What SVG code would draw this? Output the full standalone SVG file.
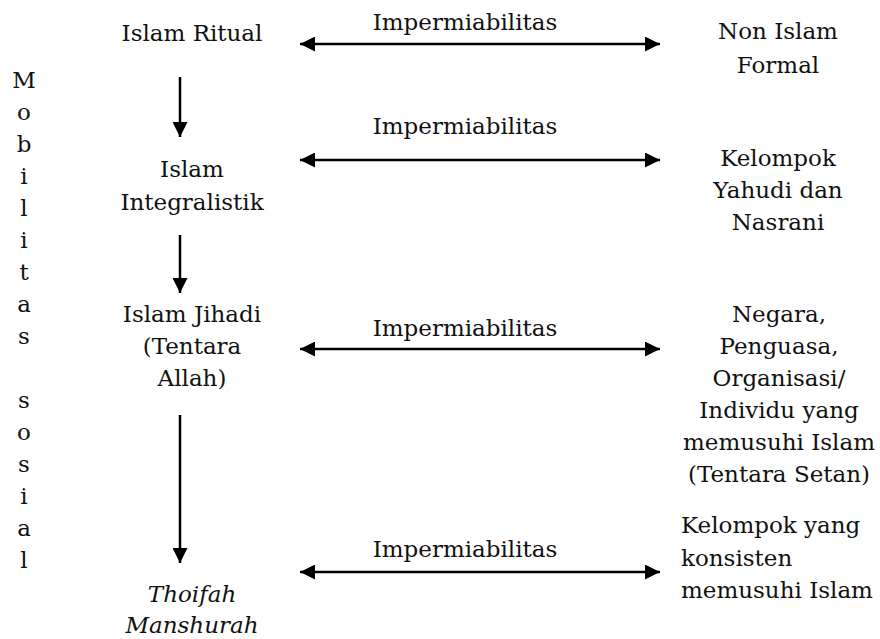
<svg xmlns="http://www.w3.org/2000/svg" width="880" height="639" viewBox="0 0 880 639">
<style>
.c{text-anchor:middle}
.it{font-style:italic}
.ln{stroke:#000;stroke-width:2.5;fill:none}
</style>
<defs>
<marker id="ah" viewBox="0 0 15 15" refX="15" refY="7.5" markerWidth="15" markerHeight="15" markerUnits="userSpaceOnUse" orient="auto-start-reverse">
<path d="M0,0L15,7.5L0,15z" fill="#000"/>
</marker>
</defs>
<rect width="880" height="639" fill="#fff"/>
<g font-family="DejaVu Serif, serif" font-size="23" fill="#111">
<g id="mobilitas" class="c">
<text x="24" y="88">M</text><text x="24" y="120">o</text><text x="24" y="152">b</text><text x="24" y="184">i</text><text x="24" y="216">l</text><text x="24" y="248">i</text><text x="24" y="280">t</text><text x="24" y="312">a</text><text x="24" y="344">s</text><text x="24" y="408">s</text><text x="24" y="440">o</text><text x="24" y="472">s</text><text x="24" y="504">i</text><text x="24" y="536">a</text><text x="24" y="568">l</text>
</g>
<g id="islam-ritual"><text class="c" x="192" y="41">Islam Ritual</text></g>
<g id="islam-integralistik"><text class="c" x="192" y="177">Islam</text><text class="c" x="192" y="210">Integralistik</text></g>
<g id="islam-jihadi"><text class="c" x="192" y="322">Islam Jihadi</text><text class="c" x="192" y="354">(Tentara</text><text class="c" x="192" y="386">Allah)</text></g>
<g id="thoifah"><text class="c it" x="192" y="602">Thoifah</text><text class="c it" x="192" y="633">Manshurah</text></g>
<g id="non-islam"><text class="c" x="778" y="39">Non Islam</text><text class="c" x="778" y="73">Formal</text></g>
<g id="yahudi"><text class="c" x="778" y="166">Kelompok</text><text class="c" x="778" y="198">Yahudi dan</text><text class="c" x="778" y="230">Nasrani</text></g>
<g id="negara"><text class="c" x="779" y="322">Negara,</text><text class="c" x="779" y="354">Penguasa,</text><text class="c" x="779" y="386">Organisasi/</text><text class="c" x="779" y="418">Individu yang</text><text class="c" x="779" y="450">memusuhi Islam</text><text class="c" x="779" y="482">(Tentara Setan)</text></g>
<g id="konsisten"><text x="681" y="533">Kelompok yang</text><text x="681" y="566">konsisten</text><text x="681" y="598">memusuhi Islam</text></g>
<g id="connectors">
<line class="ln" x1="180" y1="77" x2="180" y2="137" marker-end="url(#ah)"/>
<line class="ln" x1="180" y1="235" x2="180" y2="293" marker-end="url(#ah)"/>
<line class="ln" x1="180" y1="415" x2="180" y2="563" marker-end="url(#ah)"/>
<line class="ln" x1="300" y1="44" x2="660" y2="44" marker-start="url(#ah)" marker-end="url(#ah)"/>
<line class="ln" x1="300" y1="160" x2="660" y2="160" marker-start="url(#ah)" marker-end="url(#ah)"/>
<line class="ln" x1="300" y1="349" x2="660" y2="349" marker-start="url(#ah)" marker-end="url(#ah)"/>
<line class="ln" x1="300" y1="572" x2="660" y2="572" marker-start="url(#ah)" marker-end="url(#ah)"/>
<text class="c" x="465" y="30">Impermiabilitas</text>
<text class="c" x="465" y="134">Impermiabilitas</text>
<text class="c" x="465" y="336">Impermiabilitas</text>
<text class="c" x="465" y="557">Impermiabilitas</text>
</g>
</g>
</svg>
